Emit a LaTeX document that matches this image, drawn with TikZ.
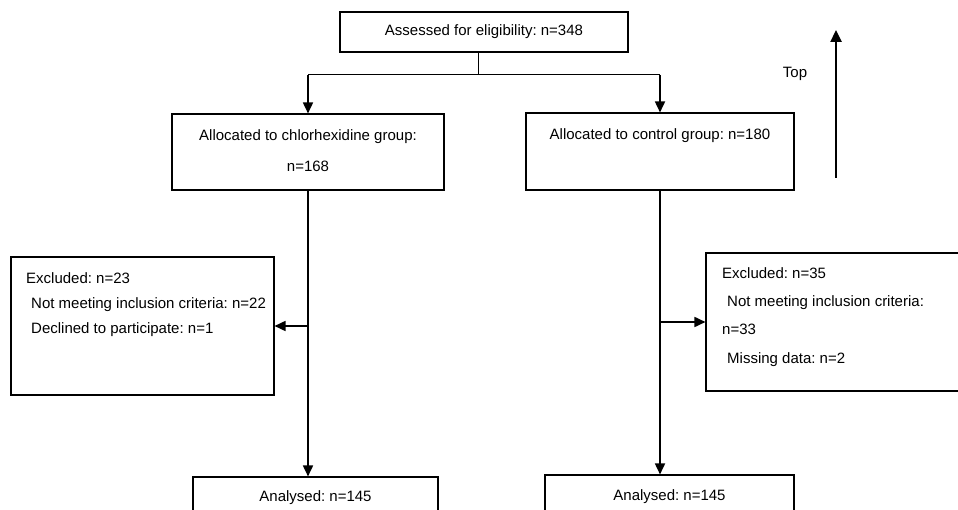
\documentclass[tikz,border=0pt]{standalone}
\usepackage{fontspec}
\setmainfont{Liberation Sans}
\usetikzlibrary{arrows.meta}
\frenchspacing

\tikzset{
  box/.style={draw, line width=1.1pt, rectangle, inner sep=0pt, align=center},
  arr/.style={-{Triangle[length=11pt,width=10pt]}, line width=1.7pt},
  lbl/.style={anchor=west, inner sep=0pt, text height=11pt, text depth=3pt},
}

\begin{document}
\begin{tikzpicture}[x=1pt,y=-1pt,font=\fontsize{15}{18}\selectfont]
		\useasboundingbox (0,0) rectangle (958,510);
		\clip (0,0) rectangle (958,510);

		\node[box, minimum width=288pt, minimum height=40pt] (assess) at (484,32) {Assessed for eligibility: n=348};

		\node[box, minimum width=272pt, minimum height=76pt] (allocA) at (308,152) {\strut Allocated to chlorhexidine group:\\[13pt]\strut n=168};
		\node[box, minimum width=268pt, minimum height=77pt] (allocC) at (660,151.5) {\strut Allocated to control group: n=180\\[13pt]\strut};

		\node[box, minimum width=263pt, minimum height=138pt] (exclA) at (142.5,326) {};
		\node[box, minimum width=274pt, minimum height=138pt] (exclC) at (843,322) {};

		\node[box, minimum width=245pt, minimum height=42pt] (anaA) at (315.5,498) {Analysed: n=145};
		\node[box, minimum width=249pt, minimum height=44pt] (anaC) at (669.5,497) {Analysed: n=145};

		% excluded texts
		\node[lbl] (exA1) at (26,280) {Excluded: n=23};
		\node[lbl] (exA2) at (31,305) {Not meeting inclusion criteria: n=22};
		\node[lbl] (exA3) at (31,330) {Declined to participate: n=1};

		\node[lbl] (exC1) at (722,275) {Excluded: n=35};
		\node[lbl] (exC2) at (727,303) {Not meeting inclusion criteria:};
		\node[lbl] (exC3) at (722,331) {n=33};
		\node[lbl] (exC4) at (727,359) {Missing data: n=2};

		% split
		\coordinate (split) at (478,75);
		\draw[line width=1pt] (assess.south -| split) -- (split);
		\draw[line width=1pt] (allocA.north |- split) -- (allocC.north |- split);
		\draw[arr] (allocA.north |- split) -- (allocA.north);
		\draw[arr] (allocC.north |- split) -- (allocC.north);

		% down the arms
		\draw[arr] (allocA.south) -- (allocA.south |- anaA.north);
		\draw[arr] (allocC.south) -- (allocC.south |- anaC.north);

		\coordinate (brA) at (allocA.south |- exclA.east);
		\coordinate (brC) at (allocC.south |- exclC.west);
		\draw[arr] (brA) -- (exclA.east);
		\draw[arr] (brC) -- (exclC.west);

		% orientation
		\coordinate (topS) at (836,178);
		\coordinate (topE) at (836,30);
		\draw[-{Triangle[length=12pt,width=11pt]}, line width=2.4pt] (topS) -- (topE);
		\node (toplbl) at (795,74) {Top};

	\end{tikzpicture}
\end{document}
